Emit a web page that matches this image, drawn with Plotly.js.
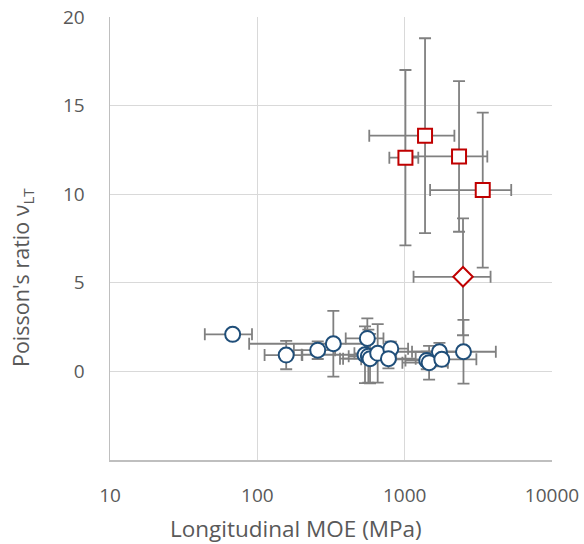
<!DOCTYPE html>
<html>
<head>
<meta charset="utf-8">
<script src="https://cdn.plot.ly/plotly-3.0.1.min.js"></script>
<style>html,body{margin:0;padding:0;background:#fff;}#chart{width:584px;height:544px;}</style>
</head>
<body>
<div id="chart"></div>
<script>
// Blue circles
const circleX    = [68, 157, 257, 328, 558, 538, 567, 582, 656, 805, 776, 1413, 1465, 1722, 1787, 2507];
const circleY    = [2.09, 0.92, 1.20, 1.56, 1.86, 0.94, 0.86, 0.72, 1.02, 1.28, 0.72, 0.62, 0.49, 1.11, 0.68, 1.11];
const circleXErr = [24, 45, 80, 240, 160, 338, 150, 200, 200, 250, 412, 400, 500, 600, 1280, 1650];
const circleYErr = [0.1, 0.8, 0.5, 1.85, 1.13, 1.6, 1.5, 1.4, 1.65, 0.4, 0.55, 0.5, 0.95, 0.5, 0.4, 1.8];
// Red squares
const squareX    = [1375, 1012, 2339, 3388];
const squareY    = [13.3, 12.06, 12.13, 10.23];
const squareXErr = [800, 225, 1300, 1900];
const squareYErr = [5.5, 4.95, 4.25, 4.37];
// Red diamond
const diamondX    = [2489];
const diamondY    = [5.34];
const diamondXErr = [1340];
const diamondYErr = [3.3];
// Axis ticks
const xTickVals = [10, 100, 1000, 10000];
const xTickText = ['10', '100', '1000', '10000'];
const yTickVals = [0, 5, 10, 15, 20];
const yTickText = ['0', '5', '10', '15', '20'];

const errColor = '#808080';
function errBars(xs, ys, xe, ye) {
  return {
    x: xs, y: ys, type: 'scatter', mode: 'markers',
    marker: {size: 1, opacity: 0},
    error_x: {type: 'data', array: xe, visible: true, color: errColor, thickness: 1.8, width: 6},
    error_y: {type: 'data', array: ye, visible: true, color: errColor, thickness: 1.8, width: 6},
    hoverinfo: 'skip', showlegend: false
  };
}
const data = [
  errBars(circleX, circleY, circleXErr, circleYErr),
  errBars(squareX, squareY, squareXErr, squareYErr),
  errBars(diamondX, diamondY, diamondXErr, diamondYErr),
  {x: circleX, y: circleY, type: 'scatter', mode: 'markers', showlegend: false,
   marker: {symbol: 'circle', size: 15, color: '#ffffff', line: {color: '#1f4e79', width: 2}}},
  {x: squareX, y: squareY, type: 'scatter', mode: 'markers', showlegend: false,
   marker: {symbol: 'square', size: 14, color: '#ffffff', line: {color: '#c00000', width: 2}}},
  {x: diamondX, y: diamondY, type: 'scatter', mode: 'markers', showlegend: false,
   marker: {symbol: 'diamond', size: 15, color: '#ffffff', line: {color: '#c00000', width: 2}}}
];
const font = {family: '"Open Sans", sans-serif', color: '#595959'};
const layout = {
  width: 584, height: 544,
  margin: {l: 110, r: 32, t: 17, b: 84},
  paper_bgcolor: '#ffffff', plot_bgcolor: '#ffffff',
  font: font,
  showlegend: false,
  xaxis: {
    type: 'log', range: [1, 4], tickvals: xTickVals, ticktext: xTickText,
    showgrid: true, gridcolor: '#d9d9d9', gridwidth: 1.2,
    showline: true, linecolor: '#bfbfbf', linewidth: 1.5,
    ticks: '', ticklabelstandoff: 18,
    tickfont: {family: font.family, size: 19, color: '#595959'},
    zeroline: false
  },
  yaxis: {
    range: [-5, 20], tickvals: yTickVals, ticktext: yTickText,
    showgrid: true, gridcolor: '#d9d9d9', gridwidth: 1.2,
    showline: true, linecolor: '#bfbfbf', linewidth: 1.5,
    ticks: '', ticklabelstandoff: 20,
    tickfont: {family: font.family, size: 19, color: '#595959'},
    zeroline: false
  },
  annotations: [
    {text: 'Longitudinal MOE (MPa)', xref: 'paper', yref: 'paper',
     x: (296 - 110) / 442, y: (460 - 528) / 443, xanchor: 'center', yanchor: 'middle',
     showarrow: false, font: {family: font.family, size: 22.5, color: '#595959'}},
    {text: "Poisson's ratio ν<sub>LT</sub>", xref: 'paper', yref: 'paper',
     x: (22 - 110) / 442, y: (460 - 278) / 443, xanchor: 'center', yanchor: 'middle',
     textangle: -90, showarrow: false, font: {family: font.family, size: 21.5, color: '#595959'}}
  ]
};
Plotly.newPlot('chart', data, layout, {displayModeBar: false, staticPlot: true});
</script>
</body>
</html>
